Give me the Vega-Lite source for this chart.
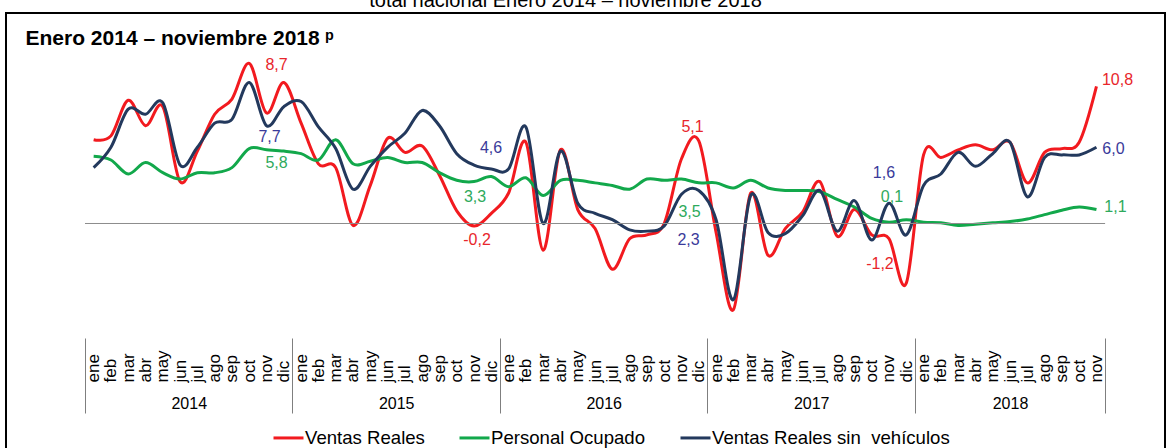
{
  "$schema": "https://vega.github.io/schema/vega-lite/v6.json",
  "autosize": {"type": "none"},
  "padding": {"left": 6, "top": 13, "right": 4, "bottom": 0},
  "width": 1159,
  "height": 437,
  "background": "white",
  "config": {
    "font": "Liberation Sans",
    "view": {"stroke": "#000000", "strokeWidth": 2}
  },
  "title": {
    "text": "total nacional Enero 2014 – noviembre 2018",
    "anchor": "middle",
    "frame": "group",
    "fontSize": 20,
    "fontWeight": "normal",
    "color": "#000000",
    "dx": -20,
    "dy": 14,
    "baseline": "alphabetic",
    "offset": 0
  },
  "datasets": {
    "meses": [
      {"i": 0, "vr": 6.6, "po": 5.3, "vs": 4.4},
      {"i": 1, "vr": 6.9, "po": 5.0, "vs": 6.0},
      {"i": 2, "vr": 9.7, "po": 3.9, "vs": 9.0},
      {"i": 3, "vr": 7.7, "po": 4.8, "vs": 8.6},
      {"i": 4, "vr": 9.2, "po": 4.0, "vs": 9.5},
      {"i": 5, "vr": 3.3, "po": 3.5, "vs": 4.6},
      {"i": 6, "vr": 5.7, "po": 4.0, "vs": 6.0},
      {"i": 7, "vr": 8.6, "po": 4.0, "vs": 7.9},
      {"i": 8, "vr": 9.8, "po": 4.4, "vs": 8.2},
      {"i": 9, "vr": 12.6, "po": 5.9, "vs": 11.1},
      {"i": 10, "vr": 8.7, "po": 5.8, "vs": 7.7},
      {"i": 11, "vr": 11.1, "po": 5.7, "vs": 9.2},
      {"i": 12, "vr": 7.9, "po": 5.5, "vs": 9.6},
      {"i": 13, "vr": 4.7, "po": 5.0, "vs": 7.6},
      {"i": 14, "vr": 4.4, "po": 6.6, "vs": 5.9},
      {"i": 15, "vr": -0.15, "po": 4.7, "vs": 2.7},
      {"i": 16, "vr": 3.0, "po": 4.9, "vs": 4.5},
      {"i": 17, "vr": 6.7, "po": 5.2, "vs": 6.0},
      {"i": 18, "vr": 5.6, "po": 4.8, "vs": 7.1},
      {"i": 19, "vr": 6.1, "po": 4.8, "vs": 8.9},
      {"i": 20, "vr": 3.8, "po": 4.0, "vs": 7.7},
      {"i": 21, "vr": 1.0, "po": 3.4, "vs": 5.5},
      {"i": 22, "vr": -0.2, "po": 3.3, "vs": 4.6},
      {"i": 23, "vr": 0.8, "po": 3.7, "vs": 4.3},
      {"i": 24, "vr": 2.4, "po": 2.9, "vs": 4.3},
      {"i": 25, "vr": 6.4, "po": 3.6, "vs": 7.6},
      {"i": 26, "vr": -2.1, "po": 2.2, "vs": 0.0},
      {"i": 27, "vr": 5.8, "po": 3.4, "vs": 5.7},
      {"i": 28, "vr": 1.1, "po": 3.4, "vs": 1.6},
      {"i": 29, "vr": -0.4, "po": 3.2, "vs": 0.8},
      {"i": 30, "vr": -3.6, "po": 3.0, "vs": 0.3},
      {"i": 31, "vr": -1.2, "po": 2.7, "vs": -0.5},
      {"i": 32, "vr": -0.9, "po": 3.5, "vs": -0.6},
      {"i": 33, "vr": 0.0, "po": 3.4, "vs": -0.2},
      {"i": 34, "vr": 5.1, "po": 3.5, "vs": 2.3},
      {"i": 35, "vr": 6.5, "po": 3.2, "vs": 2.6},
      {"i": 36, "vr": -0.7, "po": 3.2, "vs": 0.3},
      {"i": 37, "vr": -6.8, "po": 2.8, "vs": -6.0},
      {"i": 38, "vr": 2.4, "po": 3.4, "vs": 2.2},
      {"i": 39, "vr": -2.5, "po": 2.8, "vs": -0.7},
      {"i": 40, "vr": -0.4, "po": 2.6, "vs": -0.8},
      {"i": 41, "vr": 0.9, "po": 2.6, "vs": 0.6},
      {"i": 42, "vr": 3.3, "po": 2.5, "vs": 2.6},
      {"i": 43, "vr": -1.0, "po": 1.9, "vs": -0.6},
      {"i": 44, "vr": 1.1, "po": 1.3, "vs": 1.8},
      {"i": 45, "vr": -0.9, "po": 0.4, "vs": -1.3},
      {"i": 46, "vr": -1.2, "po": 0.1, "vs": 1.6},
      {"i": 47, "vr": -4.7, "po": 0.3, "vs": -0.9},
      {"i": 48, "vr": 5.4, "po": 0.1, "vs": 3.0},
      {"i": 49, "vr": 5.2, "po": 0.05, "vs": 3.9},
      {"i": 50, "vr": 5.8, "po": -0.15, "vs": 5.6},
      {"i": 51, "vr": 6.2, "po": -0.05, "vs": 4.5},
      {"i": 52, "vr": 5.8, "po": 0.05, "vs": 5.5},
      {"i": 53, "vr": 6.4, "po": 0.15, "vs": 6.4},
      {"i": 54, "vr": 3.2, "po": 0.35, "vs": 2.1},
      {"i": 55, "vr": 5.6, "po": 0.7, "vs": 5.2},
      {"i": 56, "vr": 5.9, "po": 1.05, "vs": 5.4},
      {"i": 57, "vr": 6.4, "po": 1.3, "vs": 5.4},
      {"i": 58, "vr": 10.8, "po": 1.1, "vs": 6.0}
    ],
    "etiquetas": [
      {"i": 10, "serie": "vr", "v": 8.7, "t": "8,7"},
      {"i": 10, "serie": "vs", "v": 7.7, "t": "7,7"},
      {"i": 10, "serie": "po", "v": 5.8, "t": "5,8"},
      {"i": 22, "serie": "vr", "v": -0.2, "t": "-0,2"},
      {"i": 22, "serie": "vs", "v": 4.6, "t": "4,6"},
      {"i": 22, "serie": "po", "v": 3.3, "t": "3,3"},
      {"i": 34, "serie": "vr", "v": 5.1, "t": "5,1"},
      {"i": 34, "serie": "vs", "v": 2.3, "t": "2,3"},
      {"i": 34, "serie": "po", "v": 3.5, "t": "3,5"},
      {"i": 46, "serie": "vr", "v": -1.2, "t": "-1,2"},
      {"i": 46, "serie": "vs", "v": 1.6, "t": "1,6"},
      {"i": 46, "serie": "po", "v": 0.1, "t": "0,1"},
      {"i": 58, "serie": "vr", "v": 10.8, "t": "10,8"},
      {"i": 58, "serie": "vs", "v": 6.0, "t": "6,0"},
      {"i": 58, "serie": "po", "v": 1.1, "t": "1,1"}
    ]
  },
  "data": {"name": "meses"},
  "resolve": {"axis": {"x": "independent"}},
  "layer": [
    {
      "transform": [{"fold": ["vr", "po", "vs"], "as": ["serie", "valor"]}],
      "mark": {"type": "line", "interpolate": "cardinal", "strokeWidth": 3},
      "encoding": {
        "x": {
          "field": "i", "type": "quantitative",
          "scale": {"domain": [-5.069, 61.964], "nice": false, "zero": false},
          "axis": {
            "orient": "bottom", "offset": -112,
            "values": [0,1,2,3,4,5,6,7,8,9,10,11,12,13,14,15,16,17,18,19,20,21,22,23,24,25,26,27,28,29,30,31,32,33,34,35,36,37,38,39,40,41,42,43,44,45,46,47,48,49,50,51,52,53,54,55,56,57,58],
            "labelExpr": "['ene','feb','mar','abr','may','jun','jul','ago','sep','oct','nov','dic'][datum.value % 12]",
            "labelAngle": -90, "labelAlign": "left", "labelBaseline": "middle",
            "labelPadding": 44, "labelFontSize": 17, "labelColor": "#000000",
            "labelOverlap": false, "labelFlush": false, "labelBound": false,
            "ticks": false, "tickSize": 0, "domain": false, "grid": false, "title": null
          }
        },
        "y": {
          "field": "valor", "type": "quantitative",
          "scale": {"domain": [-17.835, 16.575], "nice": false, "zero": false},
          "axis": {
            "title": "Variación (%)", "labels": false, "ticks": false, "domain": false, "grid": false,
            "offset": -79, "titleFontSize": 17, "titleFontWeight": "normal", "titleColor": "#000000",
            "titlePadding": 2, "titleY": 169
          }
        },
        "color": {
          "field": "serie", "type": "nominal",
          "scale": {"domain": ["vr", "po", "vs"], "range": ["#F21A1F", "#12A84B", "#23395D"]},
          "legend": {
            "orient": "none", "direction": "horizontal", "legendX": 266, "legendY": 408,
            "title": null, "symbolType": "stroke", "symbolSize": 900, "symbolStrokeWidth": 3,
            "labelFontSize": 18.6, "labelColor": "#000000", "labelOffset": 0, "columnPadding": 28,
            "labelLimit": 400,
            "labelExpr": "datum.label == 'vr' ? 'Ventas Reales' : datum.label == 'po' ? 'Personal Ocupado' : 'Ventas Reales sin\u00a0 vehículos'"
          }
        }
      }
    },
    {
      "data": {"values": [{}]},
      "mark": {"type": "rule", "color": "#8C8C8C", "strokeWidth": 1},
      "encoding": {
        "x": {
          "datum": -0.5, "type": "quantitative",
          "scale": {"domain": [-5.069, 61.964], "nice": false, "zero": false},
          "axis": {
            "orient": "bottom", "offset": -112,
            "values": [5.5, 17.5, 29.5, 41.5, 53],
            "labelExpr": "datum.value < 11 ? '2014' : datum.value < 23 ? '2015' : datum.value < 35 ? '2016' : datum.value < 47 ? '2017' : '2018'",
            "labelAngle": 0, "labelAlign": "center", "labelPadding": 57, "labelFontSize": 16,
            "labelColor": "#000000", "labelOverlap": false, "labelFlush": false, "labelBound": false,
            "ticks": false, "tickSize": 0, "domain": false, "grid": false, "title": null
          }
        },
        "x2": {"datum": 58.5},
        "y": {
          "datum": 0, "type": "quantitative",
          "scale": {"domain": [-17.835, 16.575], "nice": false, "zero": false},
          "axis": null
        }
      }
    },
    {
      "data": {"name": "etiquetas"},
      "encoding": {
        "x": {
          "field": "i", "type": "quantitative",
          "scale": {"domain": [-5.069, 61.964], "nice": false, "zero": false},
          "axis": {
            "orient": "bottom", "offset": -112,
            "values": [-0.5, 11.5, 23.5, 35.5, 47.5, 58.5],
            "labels": false, "ticks": true, "tickSize": 75, "tickColor": "#7F7F7F", "tickWidth": 1,
            "domain": false, "grid": false, "title": null
          }
        },
        "y": {
          "field": "v", "type": "quantitative",
          "scale": {"domain": [-17.835, 16.575], "nice": false, "zero": false},
          "axis": null
        },
        "text": {"field": "t"}
      },
      "layer": [
        {"transform": [{"filter": "datum.t == '8,7'"}], "mark": {"type": "text", "dx": 10, "dy": -48, "color": "#E8262B", "fontSize": 16}},
        {"transform": [{"filter": "datum.t == '7,7'"}], "mark": {"type": "text", "dx": 3, "dy": 11, "color": "#3A3A9A", "fontSize": 16}},
        {"transform": [{"filter": "datum.t == '5,8'"}], "mark": {"type": "text", "dx": 10, "dy": 13, "color": "#2EAA5C", "fontSize": 16}},
        {"transform": [{"filter": "datum.t == '-0,2'"}], "mark": {"type": "text", "dx": 3, "dy": 14, "color": "#E8262B", "fontSize": 16}},
        {"transform": [{"filter": "datum.t == '4,6'"}], "mark": {"type": "text", "dx": 17, "dy": -17, "color": "#3A3A9A", "fontSize": 16}},
        {"transform": [{"filter": "datum.t == '3,3'"}], "mark": {"type": "text", "dx": 1, "dy": 15, "color": "#2EAA5C", "fontSize": 16}},
        {"transform": [{"filter": "datum.t == '5,1'"}], "mark": {"type": "text", "dx": 11, "dy": -32, "color": "#E8262B", "fontSize": 16}},
        {"transform": [{"filter": "datum.t == '2,3'"}], "mark": {"type": "text", "dx": 7, "dy": 46, "color": "#3A3A9A", "fontSize": 16}},
        {"transform": [{"filter": "datum.t == '3,5'"}], "mark": {"type": "text", "dx": 8, "dy": 33, "color": "#2EAA5C", "fontSize": 16}},
        {"transform": [{"filter": "datum.t == '-1,2'"}], "mark": {"type": "text", "dx": -9, "dy": 25, "color": "#E8262B", "fontSize": 16}},
        {"transform": [{"filter": "datum.t == '1,6'"}], "mark": {"type": "text", "dx": -5, "dy": -30, "color": "#3A3A9A", "fontSize": 16}},
        {"transform": [{"filter": "datum.t == '0,1'"}], "mark": {"type": "text", "dx": 3, "dy": -25, "color": "#2EAA5C", "fontSize": 16}}
      ]
    },
    {
      "data": {"name": "etiquetas"},
      "transform": [{"filter": "datum.i == 58"}],
      "encoding": {
        "x": {
          "field": "i", "type": "quantitative",
          "scale": {"domain": [-5.069, 61.964], "nice": false, "zero": false},
          "axis": {
            "orient": "top", "labels": false, "ticks": false, "domain": false, "grid": false,
            "title": "Enero 2014 – noviembre 2018 ᵖ", "titleX": 19, "titleY": 31,
            "titleAlign": "left", "titleAnchor": "start", "titleBaseline": "alphabetic",
            "titleAngle": 0, "titleFontSize": 21, "titleFontWeight": "bold", "titleColor": "#000000"
          }
        },
        "y": {
          "field": "v", "type": "quantitative",
          "scale": {"domain": [-17.835, 16.575], "nice": false, "zero": false},
          "axis": null
        },
        "text": {"field": "t"}
      },
      "layer": [
        {"transform": [{"filter": "datum.t == '10,8'"}], "mark": {"type": "text", "dx": 21, "dy": -6, "color": "#E8262B", "fontSize": 16}},
        {"transform": [{"filter": "datum.t == '6,0'"}], "mark": {"type": "text", "dx": 17, "dy": 2, "color": "#3A3A9A", "fontSize": 16}},
        {"transform": [{"filter": "datum.t == '1,1'"}], "mark": {"type": "text", "dx": 19, "dy": -3, "color": "#2EAA5C", "fontSize": 16}}
      ]
    }
  ]
}
